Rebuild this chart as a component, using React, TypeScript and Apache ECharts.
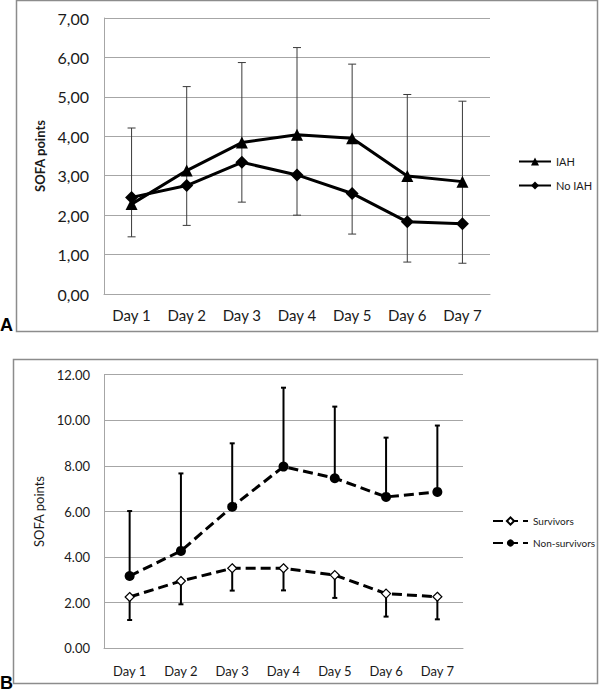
import React, { useEffect, useRef } from "react";
import * as echarts from "echarts";

const days = ["Day 1", "Day 2", "Day 3", "Day 4", "Day 5", "Day 6", "Day 7"];

// Panel A
const iah = [2.28, 3.13, 3.84, 4.04, 3.95, 2.99, 2.85];
const noIah = [2.45, 2.75, 3.34, 3.02, 2.55, 1.83, 1.78];
const iahUpper = [4.21, 5.26, 5.87, 6.25, 5.83, 5.06, 4.89];
const noIahLower = [1.45, 1.74, 2.33, 2.0, 1.52, 0.81, 0.78];

// Panel B
const survivors = [2.25, 2.95, 3.51, 3.51, 3.21, 2.4, 2.26];
const nonSurvivors = [3.17, 4.27, 6.21, 7.97, 7.46, 6.64, 6.86];
const nonSurvUpper = [6.02, 7.67, 8.99, 11.43, 10.6, 9.24, 9.77];
const survLower = [1.24, 1.93, 2.53, 2.54, 2.21, 1.39, 1.27];

const FONT = "Lato, 'Open Sans', sans-serif";
const TXT = "#1a1a1a";

function errRender(capTop: boolean, capBottom: boolean, capHalf: number, color: string, width: number) {
  return (params: any, api: any) => {
    const x = api.value(0);
    const lo = api.coord([x, api.value(1)]);
    const hi = api.coord([x, api.value(2)]);
    const st = { stroke: color, lineWidth: width };
    const children: any[] = [
      { type: "line", shape: { x1: lo[0], y1: lo[1], x2: hi[0], y2: hi[1] }, style: st },
    ];
    if (capTop)
      children.push({ type: "line", shape: { x1: hi[0] - capHalf, y1: hi[1], x2: hi[0] + capHalf, y2: hi[1] }, style: st });
    if (capBottom)
      children.push({ type: "line", shape: { x1: lo[0] - capHalf, y1: lo[1], x2: lo[0] + capHalf, y2: lo[1] }, style: st });
    return { type: "group", children };
  };
}

export default function App() {
  const ref = useRef<HTMLDivElement>(null);
  useEffect(() => {
    if (!ref.current) return;
    const chart = echarts.init(ref.current, undefined, { renderer: "svg" });
    const gridLine = { show: true, lineStyle: { color: "#a6a6a6", width: 1 } };
    const option: any = {
      animation: false,
      backgroundColor: "#fff",
      textStyle: { fontFamily: FONT },
      graphic: [
        { type: "rect", shape: { x: 16.5, y: 0.5, width: 581, height: 331 }, style: { fill: "none", stroke: "#8c8c8c", lineWidth: 1.5 }, z: 0 },
        { type: "rect", shape: { x: 13.5, y: 359.5, width: 584, height: 324 }, style: { fill: "none", stroke: "#8c8c8c", lineWidth: 1.5 }, z: 0 },
        { type: "text", left: 0, top: 316, style: { text: "A", font: "bold 18px 'Liberation Sans', Arial, sans-serif", fill: "#000" } },
        { type: "text", left: 0, top: 674, style: { text: "B", font: "bold 18px 'Liberation Sans', Arial, sans-serif", fill: "#000" } },
      ],
      grid: [
        { left: 104, top: 18, width: 386, height: 276 },
        { left: 104, top: 374.7, width: 359, height: 273.6 },
      ],
      legend: [
        {
          data: ["IAH", "No IAH"], orient: "vertical", left: 513, top: 151, itemWidth: 32, itemHeight: 10, itemGap: 13,
          textStyle: { fontSize: 11, color: TXT, fontFamily: FONT },
        },
        {
          data: ["Survivors", "Non-survivors"], orient: "vertical", left: 487, top: 511, itemWidth: 35, itemHeight: 9, itemGap: 12,
          textStyle: { fontSize: 10, color: TXT, fontFamily: FONT },
        },
      ],
      xAxis: [
        {
          type: "category", gridIndex: 0, data: days, boundaryGap: true,
          axisLine: { lineStyle: { color: "#a6a6a6" } }, axisTick: { show: false },
          axisLabel: { fontSize: 15, color: TXT, margin: 13, fontFamily: FONT },
        },
        {
          type: "category", gridIndex: 1, data: days, boundaryGap: true,
          axisLine: { lineStyle: { color: "#a6a6a6" } }, axisTick: { show: false },
          axisLabel: { fontSize: 13, color: TXT, margin: 16, fontFamily: FONT },
        },
      ],
      yAxis: [
        {
          type: "value", gridIndex: 0, min: 0, max: 7, interval: 1,
          axisLine: { show: true, lineStyle: { color: "#a6a6a6" } }, axisTick: { show: false }, splitLine: gridLine,
          axisLabel: { fontSize: 16, color: TXT, margin: 15, fontFamily: FONT, formatter: (v: number) => v.toFixed(2).replace(".", ",") },
          name: "SOFA points", nameLocation: "middle", nameGap: 52,
          nameTextStyle: { fontSize: 13, fontWeight: "bold", color: TXT, fontFamily: FONT },
        },
        {
          type: "value", gridIndex: 1, min: 0, max: 12, interval: 2,
          axisLine: { show: true, lineStyle: { color: "#a6a6a6" } }, axisTick: { show: false }, splitLine: gridLine,
          axisLabel: { fontSize: 13, color: TXT, margin: 14, fontFamily: FONT, formatter: (v: number) => v.toFixed(2) },
          name: "SOFA points", nameLocation: "middle", nameGap: 55,
          nameTextStyle: { fontSize: 13, color: TXT, fontFamily: FONT },
        },
      ],
      series: [
        {
          type: "custom", xAxisIndex: 0, yAxisIndex: 0, z: 1,
          renderItem: errRender(true, true, 4, "#3a3a3a", 1),
          data: days.map((_, i) => [i, noIahLower[i], iahUpper[i]]),
          encode: { x: 0, y: [1, 2] }, silent: true,
        },
        {
          name: "IAH", type: "line", xAxisIndex: 0, yAxisIndex: 0, z: 3, data: iah,
          symbol: "triangle", symbolSize: 12,
          lineStyle: { color: "#000", width: 3 }, itemStyle: { color: "#000" },
        },
        {
          name: "No IAH", type: "line", xAxisIndex: 0, yAxisIndex: 0, z: 3, data: noIah,
          symbol: "diamond", symbolSize: 13,
          lineStyle: { color: "#000", width: 3 }, itemStyle: { color: "#000" },
        },
        {
          type: "custom", xAxisIndex: 1, yAxisIndex: 1, z: 1,
          renderItem: errRender(true, false, 2.5, "#000", 2),
          data: days.map((_, i) => [i, nonSurvivors[i], nonSurvUpper[i]]),
          encode: { x: 0, y: [1, 2] }, silent: true,
        },
        {
          type: "custom", xAxisIndex: 1, yAxisIndex: 1, z: 1,
          renderItem: errRender(false, true, 2.5, "#000", 2),
          data: days.map((_, i) => [i, survLower[i], survivors[i]]),
          encode: { x: 0, y: [1, 2] }, silent: true,
        },
        {
          name: "Survivors", type: "line", xAxisIndex: 1, yAxisIndex: 1, z: 3, data: survivors,
          symbol: "diamond", symbolSize: 9,
          lineStyle: { color: "#000", width: 3, type: [10, 5] },
          itemStyle: { color: "#fff", borderColor: "#000", borderWidth: 1.2 },
        },
        {
          name: "Non-survivors", type: "line", xAxisIndex: 1, yAxisIndex: 1, z: 3, data: nonSurvivors,
          symbol: "circle", symbolSize: 10,
          lineStyle: { color: "#000", width: 3, type: [10, 5] }, itemStyle: { color: "#000" },
        },
      ],
    };
    chart.setOption(option);
    return () => chart.dispose();
  }, []);
  return <div ref={ref} style={{ position: "fixed", left: 0, top: 0, width: 600, height: 695 }} />;
}
